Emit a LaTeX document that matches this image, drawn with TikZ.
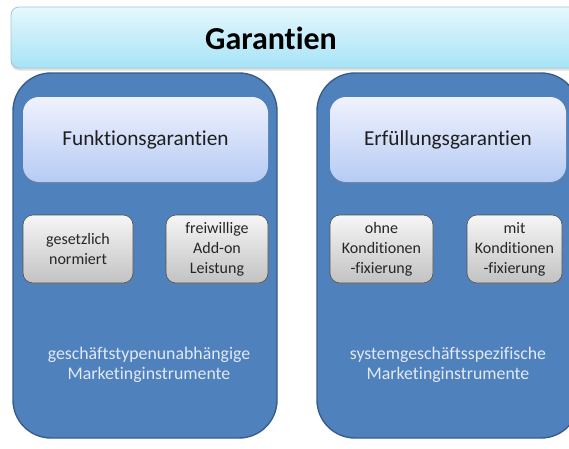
\documentclass[tikz,border=0pt]{standalone}
\usepackage{fontspec}
\setmainfont{Carlito}[Ligatures={NoCommon}]
\usetikzlibrary{shadows}
\definecolor{panelblue}{HTML}{4F81BD}
\definecolor{paneledge}{HTML}{385D8A}
\definecolor{bartop}{HTML}{E6F8FD}
\definecolor{barbot}{HTML}{A6E3F7}
\definecolor{baredge}{HTML}{9FCBD0}
\definecolor{headtop}{HTML}{F0F2FD}
\definecolor{headbot}{HTML}{B6CBF4}
\definecolor{chiptop}{HTML}{F6F6F6}
\definecolor{chipbot}{HTML}{C2C2C2}
\definecolor{chipedge}{HTML}{505050}
\definecolor{paletext}{HTML}{E2E9F5}
\begin{document}
\begin{tikzpicture}[x=1pt,y=-1pt,
  panel/.style={draw=paneledge,line width=1.4pt,fill=panelblue,rounded corners=38pt,
    minimum height=365pt,inner sep=0pt},
  topbar/.style={draw=baredge,line width=0.8pt,top color=bartop,bottom color=barbot,
    rounded corners=8pt,minimum height=61pt,inner sep=0pt,
    drop shadow={shadow xshift=0pt,shadow yshift=-2.5pt,opacity=0.25}},
  headbox/.style={top color=headtop,bottom color=headbot,rounded corners=16pt,
    minimum height=85pt,inner sep=0pt,text=black!88,font=\fontsize{21.3}{25}\selectfont,
    drop shadow={shadow xshift=0pt,shadow yshift=-2pt,opacity=0.25}},
  chip/.style={draw=chipedge,line width=0.6pt,top color=chiptop,bottom color=chipbot,
    rounded corners=10pt,minimum height=68pt,inner sep=0pt,align=center,text=black!85,
    font=\fontsize{16}{20}\selectfont,
    drop shadow={shadow xshift=1pt,shadow yshift=-2pt,opacity=0.3}},
  note/.style={align=center,text=paletext,font=\fontsize{17.8}{20.5}\selectfont}]
\useasboundingbox (0,0) rectangle (569,448);
\clip (0,0) rectangle (569,448);
\fill[white] (0,0) rectangle (569,448);

% heading bar across the top
\node[topbar,minimum width=600pt] (bar) at (311,37.5) {};
\node[font=\bfseries\fontsize{32}{36}\selectfont,text=black] (title) at (271,38) {Garantien};

% two large blue panels
\node[panel,minimum width=264pt] (left) at (145,255.5) {};
\node[panel,minimum width=262pt] (right) at (448,255.5) {};

% headings inside the panels
\node[headbox,minimum width=245pt] (funk) at (145.5,139.5) {Funktionsgarantien};
\node[headbox,minimum width=236pt] (erf) at (448,139.5) {Erfüllungsgarantien};

% small grey boxes
\node[chip,minimum width=110pt] (ges) at (78,249) {gesetzlich\\normiert};
\node[chip,minimum width=102pt] (frei) at (217,249) {freiwillige\\Add-on\\Leistung};
\node[chip,minimum width=103pt] (ohne) at (381.5,249) {ohne\\Konditionen\\-fixierung};
\node[chip,minimum width=95pt] (mit) at (514.5,249) {mit\\Konditionen\\-fixierung};

% captions at the bottom of the panels
\node[note] (capl) at (149,365) {geschäftstypenunabhängige\\Marketinginstrumente};
\node[note] (capr) at (448,365) {systemgeschäftsspezifische\\Marketinginstrumente};
\end{tikzpicture}
\end{document}
